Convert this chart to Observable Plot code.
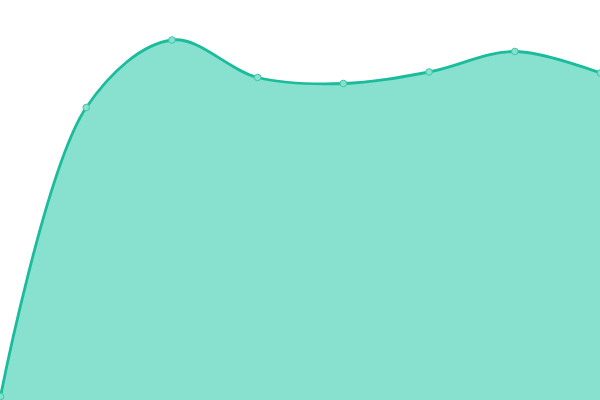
<!DOCTYPE html>
<html>
<head>
<meta charset="utf-8">
<script src="https://cdn.jsdelivr.net/npm/d3@7"></script>
<script src="https://cdn.jsdelivr.net/npm/@observablehq/plot@0.6"></script>
<style>
  html, body { margin: 0; padding: 0; background: #fff; }
  #chart svg { display: block; }
</style>
</head>
<body>
<div id="chart"></div>
<script>
const categories = [0, 1, 2, 3, 4, 5, 6, 7];
const values = [4, 293, 360.5, 323, 317, 328.5, 349, 327.5];

const data = categories.map((c, i) => ({x: c, y: values[i]}));

const chart = Plot.plot({
  width: 600,
  height: 400,
  margin: 0,
  x: {domain: [0, 7], axis: null},
  y: {domain: [0, 400], axis: null},
  marks: [
    Plot.areaY(data, {x: "x", y: "y", curve: "catmull-rom", fill: "#88e0cf", fillOpacity: 1}),
    Plot.lineY(data, {x: "x", y: "y", curve: "catmull-rom", stroke: "#1abc9c", strokeWidth: 2.8}),
    Plot.dot(data, {x: "x", y: "y", r: 3.3, fill: "#88e0cf", stroke: "#3cc8a8", strokeWidth: 1})
  ]
});
document.getElementById("chart").appendChild(chart);
</script>
</body>
</html>
